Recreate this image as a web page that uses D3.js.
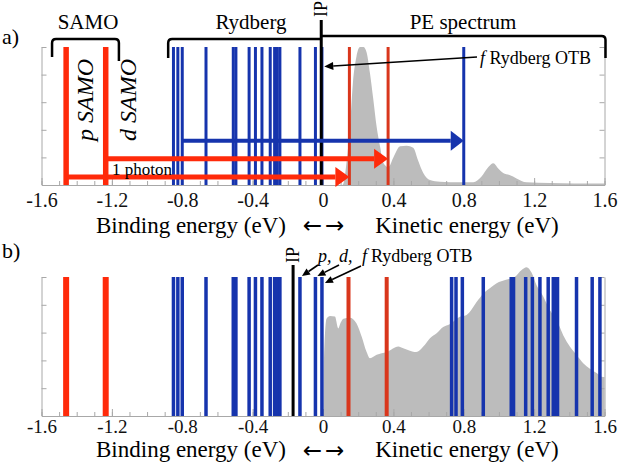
<!DOCTYPE html>
<html><head><meta charset="utf-8">
<script src="https://cdn.jsdelivr.net/npm/d3@7"></script>
<style>
html,body{margin:0;padding:0;background:#fff;}
svg{display:block;font-family:"Liberation Serif","Times New Roman",serif;}
</style></head>
<body>
<svg id="chart" width="619" height="466"></svg>
<script>
// ---------- DATA ----------
const xTickLabels = [-1.6,-1.2,-0.8,-0.4,0,0.4,0.8,1.2,1.6];
const xMinorTicks = d3.range(-16,17).map(i=>i/10);
const yTicks = [0.2,0.4,0.6,0.8,1.0];

const samoLines = [-1.46, -1.235];
const rydbergLines = [-0.85,-0.825,-0.80,-0.665,-0.51,-0.495,-0.42,-0.384,-0.347,-0.30,-0.275,-0.26,-0.245,-0.131,-0.043,-0.006];

const ipA = -0.01;
const ipB = -0.17;

const kinRedA = [0.15, 0.37];
const kinBlueA = [0.80];
const kinRedB = [0.145, 0.362];
const kinBlueB = [0.731,0.756,0.792,0.911,1.07,1.083,1.152,1.19,1.233,1.28,1.309,1.322,1.333,1.441,1.53,1.574];

// PE spectrum panel a: [kinetic energy eV, relative intensity]
const specA = [[0.11,0],[0.116,0.01],[0.135,0.18],[0.153,0.42],[0.17,0.74],[0.19,0.93],[0.21,1.0],[0.23,1.0],[0.248,0.96],[0.267,0.81],[0.286,0.62],[0.305,0.42],[0.324,0.28],[0.343,0.16],[0.371,0.13],[0.40,0.20],[0.438,0.28],[0.476,0.285],[0.513,0.27],[0.54,0.18],[0.57,0.087],[0.608,0.036],[0.665,0.024],[0.78,0.02],[0.854,0.02],[0.90,0.06],[0.94,0.13],[0.968,0.157],[0.996,0.12],[1.024,0.087],[1.06,0.072],[1.10,0.048],[1.157,0.02],[1.29,0.015],[1.57,0.01],[1.6,0.01]];
// PE spectrum panel b
const specB = [[0.004,0],[0.006,0.43],[0.02,0.70],[0.04,0.72],[0.068,0.715],[0.087,0.63],[0.10,0.67],[0.116,0.70],[0.153,0.707],[0.19,0.667],[0.22,0.57],[0.248,0.46],[0.267,0.415],[0.305,0.44],[0.362,0.46],[0.428,0.50],[0.456,0.487],[0.494,0.47],[0.53,0.46],[0.57,0.50],[0.608,0.56],[0.646,0.595],[0.683,0.64],[0.72,0.66],[0.778,0.714],[0.816,0.727],[0.835,0.75],[0.873,0.82],[0.911,0.88],[0.95,0.92],[0.987,0.955],[1.04,0.98],[1.09,1.0],[1.129,1.05],[1.157,1.07],[1.186,1.03],[1.214,0.94],[1.252,0.86],[1.29,0.76],[1.328,0.69],[1.366,0.58],[1.403,0.50],[1.44,0.44],[1.479,0.38],[1.517,0.34],[1.555,0.31],[1.593,0.28],[1.6,0.28]];

// photon arrows in panel a: start eV, end eV, level (relative height)
const arrowsA = [
  {from:-0.80, to:0.80, level:0.32, color:"blue"},
  {from:-1.235, to:0.37, level:0.19, color:"red"},
  {from:-1.46, to:0.15, level:0.058, color:"red"}
];

// ---------- STYLE ----------
const BLUE = "#1634ad", RED = "#ff2a0a", RED2 = "#d9361c", GRAY = "#bcbcbc", AX = "#a8a8a8";

const svg = d3.select("#chart");
const x = d3.scaleLinear().domain([-1.6,1.6]).range([41.5,604.5]);
const yA = d3.scaleLinear().domain([0,1]).range([185,47]);
const yB = d3.scaleLinear().domain([0,1]).range([416,277]);
const fmt = v => v===0 ? "0" : (v<0 ? "-" + d3.format(".1f")(-v) : d3.format(".1f")(v));

function axes(g, y, pad, fs){
  const y0 = y(0);
  const minor = g.append("g").attr("transform",`translate(0,${y0})`)
    .call(d3.axisBottom(x).tickValues(xMinorTicks).tickSizeInner(-4).tickSizeOuter(0).tickFormat(""));
  const major = g.append("g").attr("transform",`translate(0,${y0})`)
    .call(d3.axisBottom(x).tickValues(xTickLabels).tickSizeInner(-7).tickSizeOuter(0).tickPadding(pad).tickFormat(fmt));
  [minor,major].forEach(a=>{a.selectAll("path,line").attr("stroke",AX); a.select(".domain").attr("stroke",AX);});
  major.selectAll("text").attr("font-size",fs).attr("font-family","Liberation Serif").attr("fill","#111");
  const l = g.append("g").attr("transform",`translate(${x(-1.6)},0)`)
    .call(d3.axisLeft(y).tickValues(yTicks).tickSizeInner(-5).tickSizeOuter(0).tickFormat(""));
  const r = g.append("g").attr("transform",`translate(${x(1.6)},0)`)
    .call(d3.axisRight(y).tickValues(yTicks).tickSizeInner(-5).tickSizeOuter(0).tickFormat(""));
  [l,r].forEach(a=>a.selectAll("path,line").attr("stroke",AX));
}

function vlines(g, y, vals, color, w){
  g.selectAll(null).data(vals).join("line")
    .attr("x1",d=>x(d)).attr("x2",d=>x(d))
    .attr("y1",y(0)).attr("y2",y(1))
    .attr("stroke",color).attr("stroke-width",w);
}

function spectrum(g, y, data){
  const area = d3.area().x(d=>x(d[0])).y0(y(0)).y1(d=>y(d[1])).curve(d3.curveMonotoneX);
  g.append("path").datum(data).attr("d",area).attr("fill",GRAY);
}

function arrowLine(g, x1,y1,x2,y2, w, head){
  const ang = Math.atan2(y2-y1,x2-x1);
  const bx = x2 - head*Math.cos(ang), by = y2 - head*Math.sin(ang);
  g.append("line").attr("x1",x1).attr("y1",y1).attr("x2",bx).attr("y2",by).attr("stroke","#000").attr("stroke-width",w);
  const hw = head*0.45;
  const px = -Math.sin(ang)*hw, py = Math.cos(ang)*hw;
  g.append("path").attr("d",`M${x2},${y2}L${bx+px},${by+py}L${bx-px},${by-py}Z`).attr("fill","#000");
}

function bracket(g, xa, xb, yTop, legL, legR){
  const r = 4;
  let d = "";
  if(legL!=null) d += `M${xa},${legL}L${xa},${yTop+r}Q${xa},${yTop} ${xa+r},${yTop}`;
  else d += `M${xa},${yTop}`;
  if(legR!=null) d += `L${xb-r},${yTop}Q${xb},${yTop} ${xb},${yTop+r}L${xb},${legR}`;
  else d += `L${xb},${yTop}`;
  g.append("path").attr("d",d).attr("fill","none").attr("stroke","#000").attr("stroke-width",2.5);
}

function arrowsText(yb){
  svg.append("text").attr("x",325).attr("y",yb).attr("text-anchor","middle")
    .attr("font-family","DejaVu Sans").attr("font-size",23).attr("letter-spacing",3).text("←→");
}

// ================= PANEL A =================
const gA = svg.append("g");
spectrum(gA, yA, specA);
axes(gA, yA, 8, 20);
vlines(gA, yA, rydbergLines, BLUE, 3);
vlines(gA, yA, kinBlueA, BLUE, 3);
vlines(gA, yA, kinRedA, RED2, 3);
vlines(gA, yA, samoLines, RED, 5.5);
gA.append("line").attr("x1",x(ipA)).attr("x2",x(ipA)).attr("y1",20).attr("y2",yA(0)).attr("stroke","#000").attr("stroke-width",3);
gA.append("text").attr("transform",`translate(${x(ipA)+6},17) rotate(-90)`).attr("font-size",18).text("IP");
arrowsA.forEach(a=>{
  const c = a.color==="blue" ? BLUE : RED;
  const yy = yA(a.level);
  const w = a.color==="blue" ? 4 : 5;
  const hl = a.color==="blue" ? 13 : 14, hh = 10;
  const x1 = x(a.from), x2 = x(a.to);
  gA.append("line").attr("x1",x1).attr("x2",x2-hl).attr("y1",yy).attr("y2",yy).attr("stroke",c).attr("stroke-width",w);
  gA.append("path").attr("d",`M${x2},${yy}L${x2-hl},${yy-hh}L${x2-hl},${yy+hh}Z`).attr("fill",c);
});
gA.append("text").attr("x",112).attr("y",175).attr("font-size",17).text("1 photon");
bracket(gA, x(-1.54), x(-1.16), 39, 57, 61);
bracket(gA, x(-0.88), x(ipA), 39, 58, null);
bracket(gA, x(ipA), x(1.6)+1, 36, null, 58);
gA.append("text").attr("x",88).attr("y",29).attr("text-anchor","middle").attr("font-size",21).text("SAMO");
gA.append("text").attr("x",251).attr("y",29).attr("text-anchor","middle").attr("font-size",21).text("Rydberg");
gA.append("text").attr("x",463).attr("y",29).attr("text-anchor","middle").attr("font-size",21).text("PE spectrum");
gA.append("text").attr("transform",`translate(93,100) rotate(-90)`).attr("text-anchor","middle").attr("font-size",24).attr("font-style","italic").text("p SAMO");
gA.append("text").attr("transform",`translate(136,100) rotate(-90)`).attr("text-anchor","middle").attr("font-size",24).attr("font-style","italic").text("d SAMO");
arrowLine(gA, 477, 57, x(ipA)+3, 66.5, 1.6, 9);
const tA = gA.append("text").attr("x",480).attr("y",64).attr("font-size",18);
tA.append("tspan").attr("font-style","italic").text("f ");
tA.append("tspan").text("Rydberg OTB");
svg.append("text").attr("x",2).attr("y",44).attr("font-size",22).text("a)");
svg.append("text").attr("x",191).attr("y",233).attr("text-anchor","middle").attr("font-size",23).text("Binding energy (eV)");
arrowsText(233);
svg.append("text").attr("x",467).attr("y",233).attr("text-anchor","middle").attr("font-size",23).text("Kinetic energy (eV)");

// ================= PANEL B =================
const gB = svg.append("g");
spectrum(gB, yB, specB);
axes(gB, yB, 3, 19);
vlines(gB, yB, rydbergLines, BLUE, 3.5);
vlines(gB, yB, kinBlueB, BLUE, 3.5);
vlines(gB, yB, kinRedB, RED2, 4);
vlines(gB, yB, samoLines, RED, 6);
gB.append("line").attr("x1",x(ipB)).attr("x2",x(ipB)).attr("y1",265).attr("y2",yB(0)).attr("stroke","#000").attr("stroke-width",3);
gB.append("text").attr("transform",`translate(${x(ipB)+6},263) rotate(-90)`).attr("font-size",18).text("IP");
arrowLine(gB, 318, 265, x(rydbergLines[13])+2, 276, 1.6, 8);
arrowLine(gB, 339, 265, x(rydbergLines[14])+2, 276, 1.6, 8);
arrowLine(gB, 361, 266, x(rydbergLines[15])+3, 283, 1.6, 8);
gB.append("text").attr("x",318).attr("y",262).attr("font-size",18).attr("font-style","italic").text("p,");
gB.append("text").attr("x",339).attr("y",262).attr("font-size",18).attr("font-style","italic").text("d,");
gB.append("text").attr("x",362).attr("y",262).attr("font-size",18).attr("font-style","italic").text("f");
gB.append("text").attr("x",371).attr("y",262).attr("font-size",18).text("Rydberg OTB");
svg.append("text").attr("x",2).attr("y",258).attr("font-size",22).text("b)");
svg.append("text").attr("x",191).attr("y",457).attr("text-anchor","middle").attr("font-size",23).text("Binding energy (eV)");
arrowsText(458);
svg.append("text").attr("x",467).attr("y",457).attr("text-anchor","middle").attr("font-size",23).text("Kinetic energy (eV)");
</script>
</body></html>
